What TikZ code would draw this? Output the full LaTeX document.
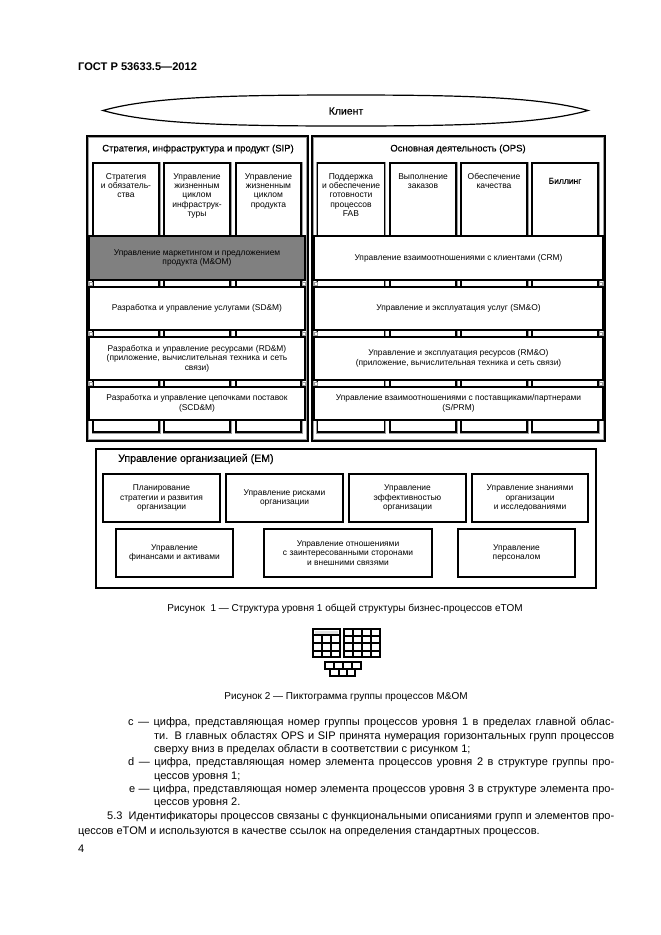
\documentclass[tikz,border=0pt]{standalone}
\usepackage{fontspec}
\setmainfont{Liberation Sans}
\newfontfamily\heavyfont[FakeBold=0.35]{Liberation Sans}
\definecolor{halo}{gray}{0.62}
\newcommand{\fline}[2]{\makebox[#1pt][s]{#2}}
\tikzset{
  x=1pt,y=-1pt,
  frame/.style={draw=black,line width=1.5pt,fill=white,inner sep=0pt,
    path picture={\draw[halo,line width=4.4pt] (path picture bounding box.south west) rectangle (path picture bounding box.north east);}},
  emframe/.style={draw=black,line width=1.2pt,fill=white,inner sep=0pt},
  colbox/.style={draw=black,line width=1.5pt,fill=white,inner sep=0pt,preaction={draw=halo,line width=3pt}},
  band/.style={draw=black,line width=1.6pt,fill=white,inner sep=1pt,align=center,font=\fontsize{8.4}{9.6}\selectfont,preaction={draw=halo,line width=2.6pt}},
  darkband/.style={band,fill=black!50},
  embox/.style={band},
  coltext/.style={anchor=north,inner sep=0pt,align=center,font=\fontsize{8.5}{9.3}\selectfont},
  title/.style={inner sep=0pt,font=\heavyfont\fontsize{9.5}{11}\selectfont},
  page/.style={anchor=west,inner sep=0pt,font=\fontsize{11}{12}\selectfont},
  capt/.style={inner sep=0pt,font=\fontsize{10}{11}\selectfont},
  picto/.style={draw=black,line width=1.9pt},
  junction/.style={draw=halo,line width=0.8pt,fill=white},
}
\begin{document}
\begin{tikzpicture}
\useasboundingbox (0,0) rectangle (661,935);
\fill[white] (0,0) rectangle (661,935);

\node[page,font=\bfseries\fontsize{11.1}{12}\selectfont] (head) at (78,67) {ГОСТ Р 53633.5—2012};

% customer lens
\draw[black,line width=1.2pt,fill=white] (103,110.5) .. controls (150,97) and (230,95) .. (346,95)
  .. controls (462,95) and (540,97) .. (588,110.5)
  .. controls (540,124) and (462,126) .. (346,126)
  .. controls (230,126) and (150,124) .. (103,110.5) -- cycle;
\node[title,font=\heavyfont\fontsize{10.5}{12}\selectfont] (client) at (346,111) {Клиент};

% SIP and OPS frames
\node[frame,minimum width=221pt,minimum height=305pt] (sip) at (197.5,288.5) {};
\node[frame,minimum width=293pt,minimum height=305pt] (ops) at (458.5,288.5) {};
\node[title] (siptitle) at (198,149) {Стратегия, инфраструктура и продукт (SIP)};
\node[title] (opstitle) at (458,149) {Основная деятельность (OPS)};

% vertical columns
\foreach \nm/\cx/\w in {s1/126/66,s2/197/66,s3/268.5/65,o1/351/67,o2/423/66,o3/494/66,o4/565/66}
  \node[colbox,minimum width=\w pt,minimum height=269pt] (\nm) at (\cx,297.5) {};

\node[coltext] (s1t) at ([yshift=-11pt]s1.north) {Стратегия\\и обязатель-\\ства};
\node[coltext] (s2t) at ([yshift=-11pt]s2.north) {Управление\\жизненным\\циклом\\инфраструк-\\туры};
\node[coltext] (s3t) at ([yshift=-11pt]s3.north) {Управление\\жизненным\\циклом\\продукта};
\node[coltext] (o1t) at ([yshift=-11pt]o1.north) {Поддержка\\и обеспечение\\готовности\\процессов\\FAB};
\node[coltext] (o2t) at ([yshift=-11pt]o2.north) {Выполнение\\заказов};
\node[coltext] (o3t) at ([yshift=-11pt]o3.north) {Обеспечение\\качества};
\node[coltext,font=\heavyfont\fontsize{8.5}{9.3}\selectfont] (o4t) at ([yshift=-15.5pt]o4.north) {Биллинг};

% junction marks in the gaps between bands
\foreach \jy in {283.5,333.5,383.5}
  \foreach \jx in {91,303.5,316,601}
    \draw[junction] (\jx-1.5,\jy-1.5) rectangle (\jx+1.5,\jy+1.5);

% horizontal bands
\node[darkband,minimum width=216pt,minimum height=44pt] (mom) at (197,258) {Управление маркетингом и предложением\\продукта (M\&OM)};
\node[band,minimum width=216pt,minimum height=43pt] (sdm) at (197,308.5) {Разработка и управление услугами (SD\&M)};
\node[band,minimum width=216pt,minimum height=43pt,text width=205pt] (rdm) at (197,358.5) {Разработка и управление ресурсами (RD\&M)\\(приложение, вычислительная техника и сеть\\связи)};
\node[band,minimum width=216pt,minimum height=33pt] (scd) at (197,403.5) {Разработка и управление цепочками поставок\\(SCD\&M)};

\node[band,minimum width=289pt,minimum height=44pt] (crm) at (458.5,258) {Управление взаимоотношениями с клиентами (CRM)};
\node[band,minimum width=289pt,minimum height=43pt] (smo) at (458.5,308.5) {Управление и эксплуатация услуг (SM\&O)};
\node[band,minimum width=289pt,minimum height=43pt] (rmo) at (458.5,358.5) {Управление и эксплуатация ресурсов (RM\&O)\\(приложение, вычислительная техника и сеть связи)};
\node[band,minimum width=289pt,minimum height=33pt] (spr) at (458.5,403.5) {Управление взаимоотношениями с поставщиками/партнерами\\(S/PRM)};

% enterprise management
\node[emframe,minimum width=500pt,minimum height=139pt] (em) at (346,518.5) {};
\node[title,anchor=west,font=\heavyfont\fontsize{10.6}{12}\selectfont] (emtitle) at (118,459) {Управление организацией (EM)};
\node[embox,minimum width=117pt,minimum height=48pt] (e1) at (161.5,498) {Планирование\\стратегии и развития\\организации};
\node[embox,minimum width=117pt,minimum height=48pt] (e2) at (284.5,498) {Управление рисками\\организации};
\node[embox,minimum width=117pt,minimum height=48pt] (e3) at (407.5,498) {Управление\\эффективностью\\организации};
\node[embox,minimum width=116pt,minimum height=48pt] (e4) at (530,498) {Управление знаниями\\организации\\и исследованиями};
\node[embox,minimum width=117pt,minimum height=48pt] (e5) at (174.5,553) {Управление\\финансами и активами};
\node[embox,minimum width=168pt,minimum height=48pt] (e6) at (348,553) {Управление отношениями\\с заинтересованными сторонами\\и внешними связями};
\node[embox,minimum width=117pt,minimum height=48pt] (e7) at (516.5,553) {Управление\\персоналом};

\node[capt] (cap1) at (345,609) {Рисунок\ \ 1 — Структура уровня 1 общей структуры бизнес-процессов eTOM};

% pictogram
\draw[picto] (313.2,629.2) rectangle (339.8,657.4);
\draw[picto] (313.2,635.4) -- (339.8,635.4) (313.2,643) -- (339.8,643) (313.2,650.8) -- (339.8,650.8)
  (322,635.4) -- (322,657.4) (331,635.4) -- (331,657.4);
\fill[black!12] (314.6,630.6) rectangle (338.4,634);
\draw[picto] (344.2,629.2) rectangle (379.8,657.4);
\draw[picto] (344.2,635.7) -- (379.8,635.7) (344.2,643.3) -- (379.8,643.3) (344.2,650.8) -- (379.8,650.8)
  (352.8,629.2) -- (352.8,657.4) (362,629.2) -- (362,657.4) (371.2,629.2) -- (371.2,657.4);
\draw[picto] (325.2,661.6) rectangle (360.8,668.8);
\draw[picto] (334.2,661.6) -- (334.2,668.8) (343.3,661.6) -- (343.3,668.8) (352.3,661.6) -- (352.3,668.8);
\draw[picto] (330.2,668.8) rectangle (355.2,675.8);
\draw[picto] (338.6,668.8) -- (338.6,675.8) (347,668.8) -- (347,675.8);

\node[capt] (cap2) at (346,697) {Рисунок 2 — Пиктограмма группы процессов M\&OM};

% body text
\node[page] (l1) at (128,723) {\fline{486}{c — цифра, представляющая номер группы процессов уровня 1 в пределах главной облас-}};
\node[page] (l2) at (154,737) {\fline{460}{ти. В главных областях OPS и SIP принята нумерация горизонтальных групп процессов}};
\node[page] (l3) at (154,750) {сверху вниз в пределах области в соответствии с рисунком 1;};
\node[page] (l4) at (128,763) {\fline{486}{d — цифра, представляющая номер элемента процессов уровня 2 в структуре группы про-}};
\node[page] (l5) at (154,777) {цессов уровня 1;};
\node[page] (l6) at (129,789.5) {\fline{485}{e — цифра, представляющая номер элемента процессов уровня 3 в структуре элемента про-}};
\node[page] (l7) at (154,803) {цессов уровня 2.};
\node[page] (l8) at (107,817) {\fline{507}{5.3\ \ Идентификаторы процессов связаны с функциональными описаниями групп и элементов про-}};
\node[page] (l9) at (78,832) {цессов eTOM и используются в качестве ссылок на определения стандартных процессов.};
\node[page] (pg) at (78,849) {4};
\end{tikzpicture}
\end{document}
